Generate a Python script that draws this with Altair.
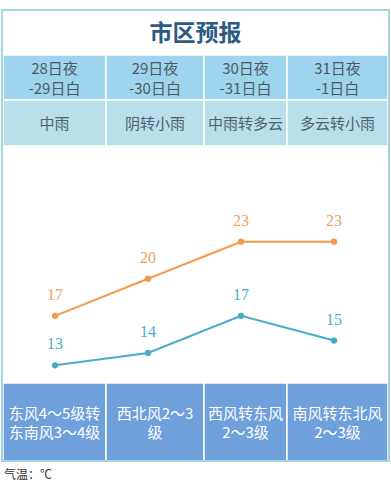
import altair as alt
import pandas as pd

# ---- data ----
dates_line1 = ["28日夜", "29日夜", "30日夜", "31日夜"]
dates_line2 = ["-29日白", "-30日白", "-31日白", "-1日白"]
weather = ["中雨", "阴转小雨", "中雨转多云", "多云转小雨"]
wind_line1 = ["东风4～5级转", "西北风2～3", "西风转东风", "南风转东北风"]
wind_line2 = ["东南风3～4级", "级", "2～3级", "2～3级"]
high = [17, 20, 23, 23]
low = [13, 14, 17, 15]
title = "市区预报"
footer = "气温：℃"

# ---- layout (pixels) ----
W, H = 391, 500
col_edges = [3, 106, 204, 287, 388]
ROW_DATE = (55, 100)
ROW_WEATHER = (100, 146)
ROW_WIND = (383, 461)

PX = alt.Scale(domain=[0, W], range=[0, W])
PY = alt.Scale(domain=[0, H], range=[0, H])

FONT = "Noto Sans CJK SC"

def cell_frame(row, texts):
    return pd.DataFrame({
        "x": col_edges[:-1], "x2": col_edges[1:],
        "y": [row[0]] * 4, "y2": [row[1]] * 4,
        "cx": [(a + b) / 2 for a, b in zip(col_edges[:-1], col_edges[1:])],
        "label": texts,
    })

def cell_rect(df, fill):
    return alt.Chart(df).mark_rect(fill=fill, stroke="#ffffff", strokeWidth=1.5).encode(
        x=alt.X("x:Q", scale=PX, axis=None), x2="x2:Q",
        y=alt.Y("y:Q", scale=PY, axis=None), y2="y2:Q",
    )

def cell_text(df, ypos, color, size=15):
    return alt.Chart(df).mark_text(font=FONT, fontSize=size, color=color,
                                   baseline="middle").encode(
        x=alt.X("cx:Q", scale=PX, axis=None),
        y=alt.Y("yy:Q", scale=PY, axis=None),
        text="label:N",
    ).transform_calculate(yy=str(ypos))

d_date1 = cell_frame(ROW_DATE, dates_line1)
d_date2 = cell_frame(ROW_DATE, dates_line2)
d_weather = cell_frame(ROW_WEATHER, weather)
d_wind1 = cell_frame(ROW_WIND, wind_line1)
d_wind2 = cell_frame(ROW_WIND, wind_line2)

layers = []

# white background of card
card = pd.DataFrame({"x": [2], "x2": [389], "y": [10], "y2": [461]})
layers.append(alt.Chart(card).mark_rect(fill="#ffffff").encode(
    x=alt.X("x:Q", scale=PX, axis=None), x2="x2:Q",
    y=alt.Y("y:Q", scale=PY, axis=None), y2="y2:Q"))

layers.append(cell_rect(d_date1, "#9fd4ef"))
layers.append(cell_rect(d_weather, "#b8dfea"))
layers.append(cell_rect(d_wind1, "#6fa0dc"))

# outer border
layers.append(alt.Chart(card).mark_rect(fill=None, stroke="#a3d5de", strokeWidth=2).encode(
    x=alt.X("x:Q", scale=PX, axis=None), x2="x2:Q",
    y=alt.Y("y:Q", scale=PY, axis=None), y2="y2:Q"))

layers.append(cell_text(d_date1, 69, "#4f5a62"))
layers.append(cell_text(d_date2, 89, "#4f5a62"))
layers.append(cell_text(d_weather, 124, "#4f6270"))
layers.append(cell_text(d_wind1, 414, "#ffffff"))
layers.append(cell_text(d_wind2, 433, "#ffffff"))

# title and footer
tdf = pd.DataFrame({"x": [W / 2], "y": [34], "t": [title]})
layers.append(alt.Chart(tdf).mark_text(font=FONT, fontSize=23, fontWeight="bold",
                                       color="#2b5a82", baseline="middle").encode(
    x=alt.X("x:Q", scale=PX, axis=None), y=alt.Y("y:Q", scale=PY, axis=None), text="t:N"))
fdf = pd.DataFrame({"x": [4], "y": [475], "t": [footer]})
layers.append(alt.Chart(fdf).mark_text(font=FONT, fontSize=12, color="#333333",
                                       align="left", baseline="middle").encode(
    x=alt.X("x:Q", scale=PX, axis=None), y=alt.Y("y:Q", scale=PY, axis=None), text="t:N"))

# temperature lines
temp = pd.DataFrame({
    "i": list(range(4)) * 2,
    "t": high + low,
    "s": ["high"] * 4 + ["low"] * 4,
})
TX = alt.Scale(domain=[0, 3], range=[55, 334])
TY = alt.Scale(domain=[13, 23], range=[365.3, 241.7])
CS = alt.Scale(domain=["high", "low"], range=["#f39a4a", "#45adc6"])
LS = alt.Scale(domain=["high", "low"], range=["#f2a163", "#4aaec6"])

base = alt.Chart(temp).encode(
    x=alt.X("i:Q", scale=TX, axis=None),
    y=alt.Y("t:Q", scale=TY, axis=None),
)
layers.append(base.mark_line(strokeWidth=2).encode(
    color=alt.Color("s:N", scale=CS, legend=None), detail="s:N"))
layers.append(base.mark_circle(size=40, opacity=1).encode(
    color=alt.Color("s:N", scale=CS, legend=None)))
layers.append(base.mark_text(font="Liberation Serif", fontSize=16, dy=-21,
                             baseline="middle").encode(
    text="t:Q", color=alt.Color("s:N", scale=LS, legend=None)))

chart = alt.layer(*layers).resolve_scale(
    x="independent", y="independent", color="independent"
).properties(
    width=W, height=H, padding=0, autosize=alt.AutoSizeParams(type="none")
).configure_view(stroke=None)

chart.save("out.html", embed_options={"renderer": "svg", "actions": False})
